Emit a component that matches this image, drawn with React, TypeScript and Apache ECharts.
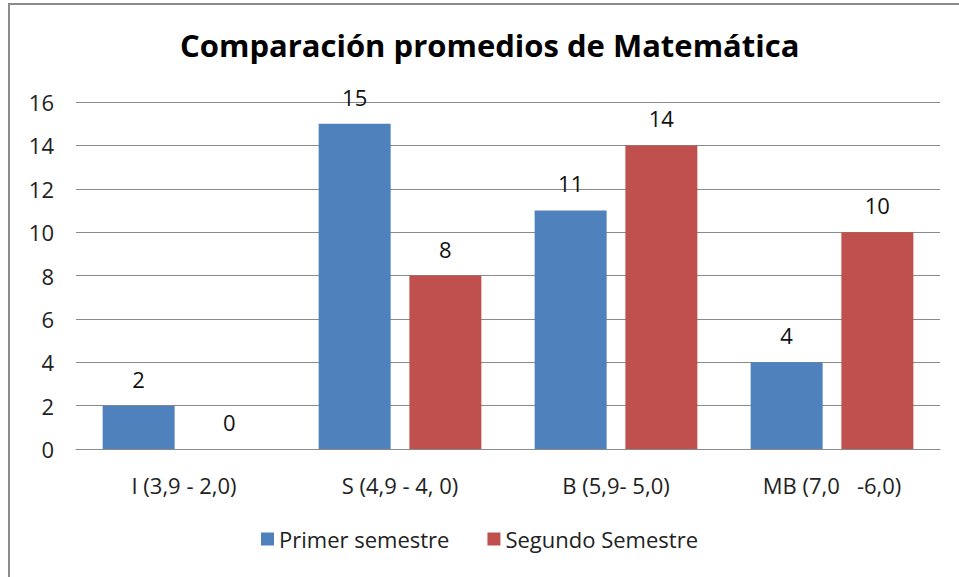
import React, { useEffect, useRef } from "react";
import * as echarts from "echarts";

const categories = ["I (3,9 - 2,0)", "S (4,9 - 4, 0)", "B (5,9- 5,0)", "MB (7,0   -6,0)"];
const primerSemestre = [2, 15, 11, 4];
const segundoSemestre = [0, 8, 14, 10];
const seriesNames = ["Primer semestre", "Segundo Semestre"];
const titleText = "Comparación promedios de Matemática";

const FONT = "'Open Sans', 'Noto Sans', sans-serif";

export default function App() {
  const ref = useRef<HTMLDivElement>(null);
  useEffect(() => {
    const chart = echarts.init(ref.current!, null, { renderer: "svg" });
    const labelStyle = {
      show: true,
      position: "top" as const,
      distance: 16,
      color: "#111",
      fontSize: 22,
      fontFamily: FONT,
    };
    chart.setOption({
      animation: false,
      backgroundColor: "#fff",
      title: {
        text: titleText,
        left: 175,
        top: 24,
        textStyle: { fontSize: 31, fontWeight: "bold", color: "#000", fontFamily: FONT },
      },
      grid: { left: 76, right: 19, top: 102, bottom: 128, containLabel: false },
      legend: {
        data: seriesNames,
        bottom: 22,
        left: "center",
        itemWidth: 13,
        itemHeight: 13,
        itemGap: 38,
        icon: "rect",
        textStyle: { fontSize: 22, color: "#222", fontFamily: FONT },
      },
      xAxis: {
        type: "category",
        data: categories,
        axisLine: { show: true, lineStyle: { color: "#8a8a8a", width: 1 } },
        axisTick: { show: false },
        axisLabel: { fontSize: 22, color: "#222", margin: 25, fontFamily: FONT },
      },
      yAxis: {
        type: "value",
        min: 0,
        max: 16,
        interval: 2,
        axisLine: { show: false },
        axisTick: { show: false },
        axisLabel: { fontSize: 22, color: "#222", margin: 22, fontFamily: FONT },
        splitLine: { lineStyle: { color: "#8a8a8a", width: 1 } },
      },
      series: [
        {
          name: seriesNames[0],
          type: "bar",
          data: primerSemestre,
          barWidth: 72,
          barGap: "26%",
          itemStyle: { color: "#4F81BD" },
          label: labelStyle,
        },
        {
          name: seriesNames[1],
          type: "bar",
          data: segundoSemestre,
          barWidth: 72,
          itemStyle: { color: "#C0504D" },
          label: labelStyle,
        },
      ],
      graphic: [
        { type: "line", shape: { x1: 8, y1: 4, x2: 959, y2: 4 }, style: { stroke: "#8c8c8c", lineWidth: 2 } },
        { type: "line", shape: { x1: 9, y1: 3, x2: 9, y2: 577 }, style: { stroke: "#8c8c8c", lineWidth: 2 } },
      ],
    });
    return () => chart.dispose();
  }, []);
  return (
    <div
      ref={ref}
      style={{ position: "fixed", left: 0, top: 0, width: 959, height: 577 }}
    />
  );
}
